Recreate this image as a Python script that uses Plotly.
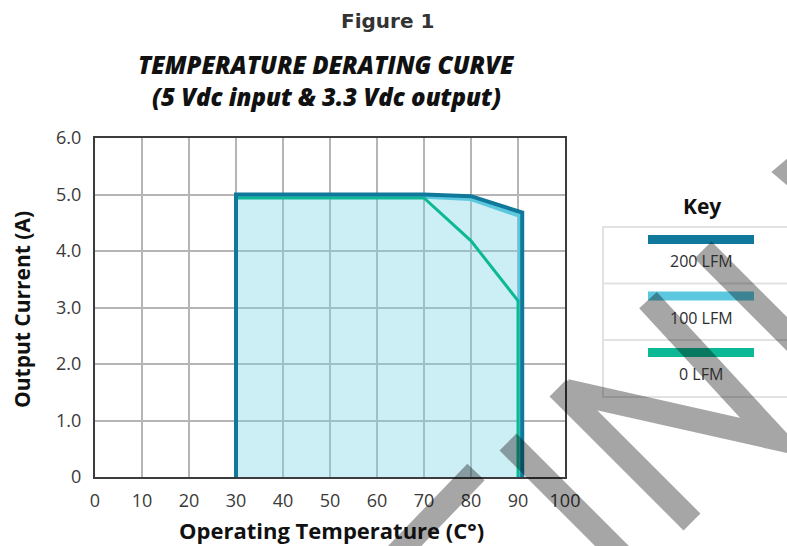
import plotly.graph_objects as go

# ---- data ----
temp_200 = [30, 30, 70, 80, 90.9, 90.9]
amp_200 = [0, 5.0, 5.0, 4.97, 4.68, 0]
temp_100 = [30, 30, 70, 80, 90.4, 90.4]
amp_100 = [0, 4.96, 4.96, 4.92, 4.62, 0]
temp_0 = [30, 70, 80, 90, 90]
amp_0 = [4.94, 4.94, 4.18, 3.12, 0]

series_names = ["200 LFM", "100 LFM", "0 LFM"]
series_colors = ["#10789a", "#5bc8e0", "#0db894"]

x_ticks = [0, 10, 20, 30, 40, 50, 60, 70, 80, 90, 100]
y_ticks = [0, 1, 2, 3, 4, 5, 6]
y_tick_text = ["0", "1.0", "2.0", "3.0", "4.0", "5.0", "6.0"]

# ---- layout geometry (pixels) ----
W, H = 787, 546
L, R, T, B = 95, 565, 138, 477


def px(x):
    return (x - L) / (R - L)


def py(y):
    return (B - y) / (B - T)


fig = go.Figure()

# filled area under the 200 LFM curve
fig.add_trace(go.Scatter(x=temp_200, y=amp_200, mode="lines", fill="toself",
                         fillcolor="rgba(120,210,228,0.38)",
                         line=dict(width=0), hoverinfo="skip", showlegend=False))
fig.add_trace(go.Scatter(x=temp_100, y=amp_100, mode="lines", name=series_names[1],
                         line=dict(color=series_colors[1], width=4), showlegend=False))
fig.add_trace(go.Scatter(x=temp_0, y=amp_0, mode="lines", name=series_names[2],
                         line=dict(color=series_colors[2], width=3), showlegend=False))
fig.add_trace(go.Scatter(x=temp_200, y=amp_200, mode="lines", name=series_names[0],
                         line=dict(color=series_colors[0], width=4), showlegend=False))

tick_font = dict(family="Open Sans", size=18, color="#3a3a3a")
fig.update_xaxes(range=[0, 100], tickvals=x_ticks, showgrid=True, gridcolor="#b5b5b5",
                 gridwidth=2, showline=True, linecolor="#3c3c3c", linewidth=2, mirror=True,
                 zeroline=False, ticks="", tickfont=tick_font, ticklabelstandoff=6)
fig.update_yaxes(range=[0, 6], tickvals=y_ticks, ticktext=y_tick_text, showgrid=True,
                 gridcolor="#b5b5b5", gridwidth=2, showline=True, linecolor="#3c3c3c",
                 linewidth=2, mirror=True, zeroline=False, ticks="", tickfont=tick_font,
                 ticklabelstandoff=8)

shapes = []
annotations = []

# ---- titles ----
annotations.append(dict(x=px(387), y=py(21), xref="paper", yref="paper", text="Figure 1",
                        showarrow=False, xanchor="center", yanchor="middle",
                        font=dict(family="DejaVu Sans", size=20, color="#333333", weight="bold")))
annotations.append(dict(x=px(326), y=py(64), xref="paper", yref="paper",
                        text="TEMPERATURE DERATING CURVE", showarrow=False,
                        xanchor="center", yanchor="middle",
                        font=dict(family="Open Sans", size=24, color="#111111",
                                  weight=800, style="italic")))
annotations.append(dict(x=px(326), y=py(96), xref="paper", yref="paper",
                        text="(5 Vdc input & 3.3 Vdc output)", showarrow=False,
                        xanchor="center", yanchor="middle",
                        font=dict(family="Open Sans", size=24, color="#111111",
                                  weight=800, style="italic")))
# axis titles
annotations.append(dict(x=px(331), y=py(530), xref="paper", yref="paper",
                        text="Operating Temperature (C°)", showarrow=False,
                        xanchor="center", yanchor="middle",
                        font=dict(family="Open Sans", size=22, color="#111111", weight="bold")))
annotations.append(dict(x=px(22), y=py(310), xref="paper", yref="paper",
                        text="Output Current (A)", showarrow=False, textangle=-90,
                        xanchor="center", yanchor="middle",
                        font=dict(family="Open Sans", size=21, color="#111111", weight="bold")))

# ---- key box ----
annotations.append(dict(x=px(702), y=py(206), xref="paper", yref="paper", text="Key",
                        showarrow=False, xanchor="center", yanchor="middle",
                        font=dict(family="Open Sans", size=21, color="#111111", weight="bold")))
shapes.append(dict(type="rect", xref="paper", yref="paper", x0=px(603), x1=px(805),
                   y0=py(227), y1=py(397), line=dict(color="#e2e2e2", width=2),
                   fillcolor="rgba(0,0,0,0)", layer="above"))
for yy in (283.5, 340):
    shapes.append(dict(type="line", xref="paper", yref="paper", x0=px(603), x1=px(805),
                       y0=py(yy), y1=py(yy), line=dict(color="#e2e2e2", width=2), layer="above"))
for i, (name, col) in enumerate(zip(series_names, series_colors)):
    yb = 239.5 + i * 56.5
    shapes.append(dict(type="rect", xref="paper", yref="paper", x0=px(648), x1=px(754),
                       y0=py(yb - 4.5), y1=py(yb + 4.5), fillcolor=col, line=dict(width=0),
                       layer="above"))
    annotations.append(dict(x=px(701), y=py(yb + 21.5), xref="paper", yref="paper", text=name,
                            showarrow=False, xanchor="center", yanchor="middle",
                            font=dict(family="Open Sans", size=16, color="#2e2e2e")))

# ---- watermark strokes (decorative, pixel geometry) ----
strokes = [
    [(370, 582), (476, 472)],
    [(508, 442), (660, 594)],
    [(692, 522), (558, 388)],
    [(566, 391), (775, 438), (648, 300)],
    [(703, 250), (840, 387)],
    [(840, 130), (790, 172), (840, 214)],
]
path = ""
for st in strokes:
    for k, (a, b) in enumerate(st):
        path += ("M" if k == 0 else "L") + f"{px(a):.5f},{py(b):.5f} "
shapes.append(dict(type="path", xref="paper", yref="paper", path=path.strip(),
                   line=dict(color="rgba(0,0,0,0.35)", width=24), layer="above"))

fig.update_layout(width=W, height=H, margin=dict(l=L, r=W - R, t=T, b=H - B),
                  paper_bgcolor="white", plot_bgcolor="white", showlegend=False,
                  shapes=shapes, annotations=annotations)

fig.write_html("out.html", config={"displayModeBar": False},
               post_script="document.body.style.margin='0';document.body.style.overflow='hidden';")
